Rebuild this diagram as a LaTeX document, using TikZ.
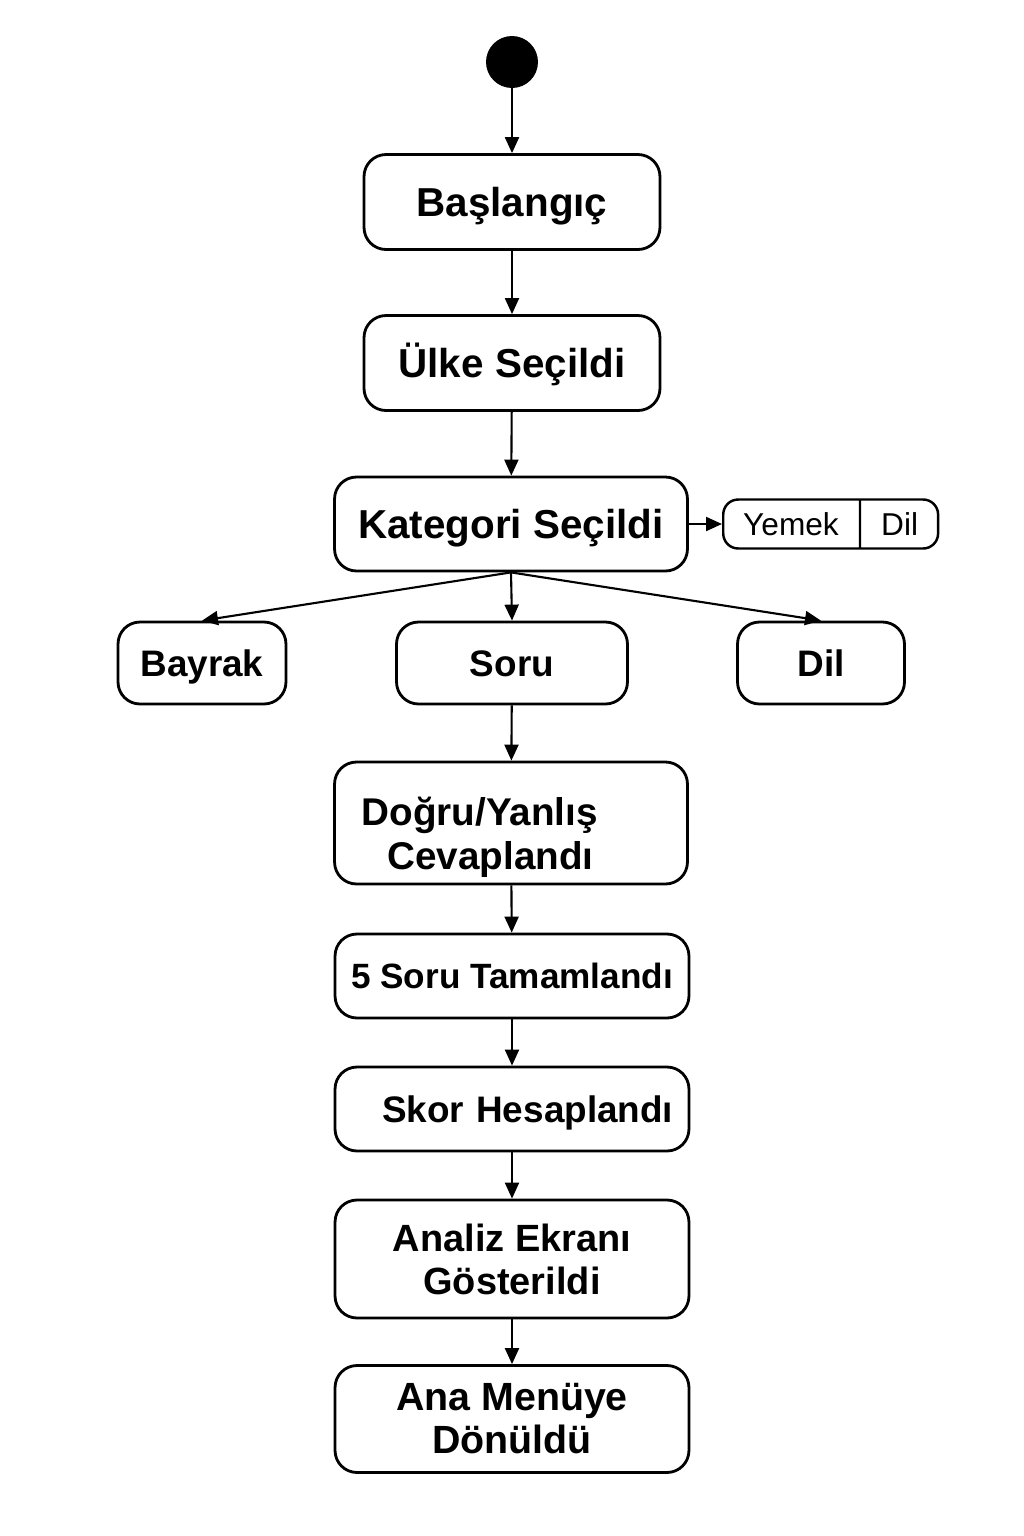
\documentclass[tikz,border=0pt]{standalone}
\usepackage{fontspec}
\setmainfont{Liberation Sans}
\usetikzlibrary{arrows.meta,shapes.multipart}
\begin{document}
\begin{tikzpicture}[x=0.02cm, y=-0.02cm,
  box/.style={draw, line width=1.6pt, rounded corners=0.44cm, inner sep=0pt, align=center,
    font=\bfseries\fontsize{22}{25}\selectfont},
  state/.style={draw, line width=1.6pt, rounded corners=0.44cm, inner sep=0pt,
    text height=16.5pt, text depth=0pt, font=\bfseries\fontsize{23}{26}\selectfont},
  choice/.style={state, text height=15.1pt, font=\bfseries\fontsize{21}{24}\selectfont, minimum height=1.64cm},
  flow/.style={-{Triangle[length=3.2mm,width=2.8mm]}, line width=1.2pt}]
\useasboundingbox (0,0) rectangle (1024,1536);
% start
\node[circle, fill, minimum size=1.04cm, inner sep=0pt] (start) at (512,62) {};
\node[state, minimum width=5.92cm, minimum height=1.9cm] (basla) at (512,202) {Başlangıç};
\node[state, minimum width=5.92cm, minimum height=1.9cm] (ulke) at (512,363) {Ülke Seçildi};
\node[state, minimum width=7.06cm, minimum height=1.88cm] (kat) at (511,524) {Kategori Seçildi};
\node[draw, line width=1.4pt, rounded corners=0.3cm, rectangle split, rectangle split horizontal,
  rectangle split parts=2, minimum height=0.98cm, inner xsep=0.4cm, anchor=west,
  font=\fontsize{18}{20}\selectfont] (tur) at (722,524)
  {Yemek \nodepart{two}Dil};
% categories
\node[choice, minimum width=3.36cm] (bayrak) at (202,663) {Bayrak};
\node[choice, minimum width=4.62cm] (soru) at (512,663) {Soru};
\node[choice, minimum width=3.34cm] (dil) at (821,663) {Dil};
% quiz flow
\node[box, text width=7.06cm, align=left, minimum height=2.44cm] (cevap) at (511,823)
  {\rule{0pt}{32pt}\hspace*{0.54cm}Doğru/Yanlış\\\hspace*{1.06cm}Cevaplandı};
\node[state, minimum width=7.08cm, minimum height=1.68cm, text height=14.4pt,
  font=\bfseries\fontsize{20}{23}\selectfont] (tamam) at (512,976) {5 Soru Tamamlandı};
\node[state, text width=7.08cm, minimum height=1.68cm, text height=15.1pt,
  font=\bfseries\fontsize{21}{24}\selectfont] (skor) at (512,1109) {\hspace*{0.94cm}Skor Hesaplandı};
\node[box, minimum width=7.08cm, minimum height=2.36cm, font=\bfseries\fontsize{21.6}{24.5}\selectfont]
  (analiz) at (512,1259) {Analiz Ekranı\\Gösterildi};
\node[box, minimum width=7.08cm, minimum height=2.14cm, font=\bfseries\fontsize{22.4}{24.5}\selectfont]
  (menu) at (512,1419) {Ana Menüye\\Dönüldü};
% arrows
\draw[flow] (start) -- (basla);
\draw[flow] (basla) -- (ulke);
\draw[flow] (ulke) -- (kat);
\draw[flow] (kat) -- (tur);
\draw[flow] (kat.south) -- (bayrak.north);
\draw[flow] (kat.south) -- (soru.north);
\draw[flow] (kat.south) -- (dil.north);
\draw[flow] (soru) -- (cevap);
\draw[flow] (cevap) -- (tamam);
\draw[flow] (tamam) -- (skor);
\draw[flow] (skor) -- (analiz);
\draw[flow] (analiz) -- (menu);
\end{tikzpicture}
\end{document}
